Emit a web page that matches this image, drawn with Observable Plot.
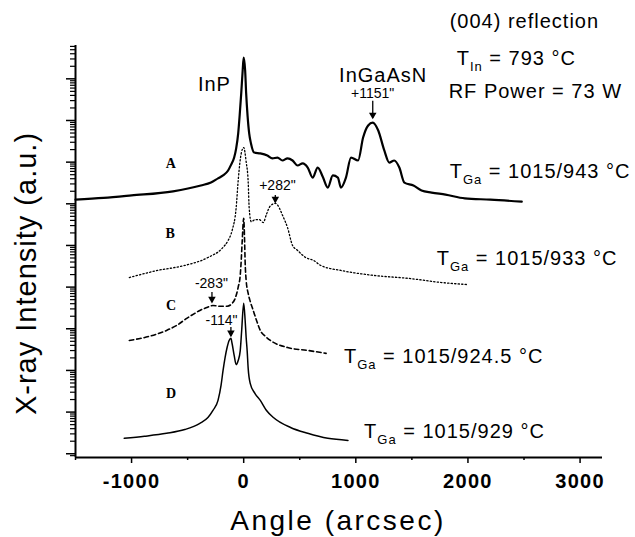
<!DOCTYPE html>
<html><head><meta charset="utf-8">
<script src="https://cdn.jsdelivr.net/npm/d3@7"></script>
<script src="https://cdn.jsdelivr.net/npm/@observablehq/plot@0.6"></script>
<style>
body{margin:0;background:#fff;}
#chart svg{display:block;}
g[aria-label="x-axis tick label"] text{font-weight:bold;font-size:20px;letter-spacing:1.3px;}
g[aria-description="headers"] text{letter-spacing:1px;}
g[aria-description="peak-names"] text{letter-spacing:1px;}
g[aria-description="y-title"] text{letter-spacing:1px;}
g[aria-description="x-title"] text{letter-spacing:2.5px;}
</style></head><body><div id="chart"></div>
<script>
// Curve A (solid): angle in arcsec, log10 of intensity
const angleA = [-1500,-1250,-1000,-630,-382,-292,-229,-184,-139,-112,-85,-67,-49,-36,-22,-9,0,13,22,35,49,65,94,148,211,256,301,346,391,436,481,526,571,615,660,705,750,795,840,867,912,957,1020,1065,1110,1151,1200,1254,1298,1343,1388,1433,1514,1586,1676,1800,1972,2200,2480];
const logA   = [6.10,6.14,6.20,6.30,6.44,6.51,6.61,6.68,6.80,6.94,7.11,7.33,7.69,8.12,8.65,9.20,9.51,9.20,8.65,8.10,7.69,7.45,7.23,7.21,7.16,7.09,7.11,7.04,7.09,7.04,6.92,6.97,6.87,6.63,6.87,6.65,6.39,6.68,6.63,6.39,6.63,7.11,7.04,7.59,7.88,7.95,7.76,7.28,6.99,7.04,6.87,6.51,6.44,6.32,6.27,6.22,6.13,6.10,6.05];
// Curve B (dotted)
const angleB = [-1020,-768,-526,-319,-193,-139,-103,-67,-49,-22,0,22,40,49,67,103,139,175,202,238,282,355,391,436,481,553,624,687,867,1164,1470,1766,2000];
const logB   = [4.23,4.40,4.52,4.71,4.93,5.12,5.36,5.91,6.56,7.21,7.35,7.01,6.53,5.90,5.57,5.62,5.62,5.55,5.74,5.95,6.01,5.67,5.43,5.00,4.88,4.71,4.64,4.52,4.40,4.28,4.21,4.11,4.06];
// Curve C (dashed)
const angleC = [-1020,-840,-688,-598,-508,-436,-391,-328,-274,-211,-148,-103,-76,-49,-31,-22,-13,0,8,13,22,40,58,85,121,148,193,238,391,571,735];
const logC   = [2.72,2.82,2.96,3.08,3.25,3.37,3.44,3.51,3.56,3.54,3.54,3.61,3.73,4.00,4.28,4.64,5.12,5.65,5.12,4.60,4.16,3.85,3.66,3.44,3.15,2.96,2.82,2.72,2.55,2.48,2.41];
// Curve D (thin solid)
const angleD = [-1065,-885,-688,-526,-391,-319,-274,-229,-202,-184,-166,-148,-130,-114,-103,-85,-67,-49,-31,-18,0,13,22,31,40,58,100,148,200,265,418,571,750,930];
const logD   = [0.37,0.42,0.49,0.58,0.73,0.87,1.04,1.28,1.64,2.00,2.31,2.55,2.72,2.77,2.64,2.36,2.14,2.24,2.47,2.96,3.61,3.20,2.79,2.47,2.05,1.69,1.45,1.28,1.05,0.87,0.63,0.49,0.37,0.32];

// Axis ticks
const xMajorTicks = [-1000, 0, 1000, 2000, 3000];
const xMinorTicks = [-1500, -500, 500, 1500, 2500];
const yDecades = [0,1,2,3,4,5,6,7,8,9];
const yMinorMult = [2,3,4,5,6,7,8,9];
const yLogDomain = [-0.09, 9.8];

// Annotations
const peakNames = ["InP", "InGaAsN"];
const peakNameX = [-261, 1244];
const peakNameLog = [8.70, 8.92];
const shiftText = ["+1151\"", "+282\"", "-283\"", "-114\""];
const shiftTextX = [1150, 301, -288, -198];
const shiftTextLog = [8.53, 6.32, 3.97, 3.08];
const arrowX = [1151, 282, -283, -114];
const arrowTopLog = [8.46, 6.20, 3.87, 3.03];
const arrowTipLog = [8.05, 6.03, 3.63, 2.82];
const curveLetters = ["A", "B", "C", "D"];
const curveLetterX = [-651, -656, -647, -647];
const curveLetterLog = [6.85, 5.19, 3.44, 1.35];
const headerText = ["(004) reflection", "T_In = 793 °C", "RF Power = 73 W",
  "T_Ga = 1015/943 °C", "T_Ga = 1015/933 °C", "T_Ga = 1015/924.5 °C", "T_Ga = 1015/929 °C"];
const headerX = [1837, 1900, 1828, 1837, 1721, 894, 1074];
const headerLog = [10.23, 9.32, 8.55, 6.63, 4.54, 2.19, 0.39];

const toRows = (xs, ls) => xs.map((x, i) => ({angle: x, I: Math.pow(10, ls[i])}));
const rowsA = toRows(angleA, logA), rowsB = toRows(angleB, logB),
      rowsC = toRows(angleC, logC), rowsD = toRows(angleD, logD);

const yMajor = yDecades.map(d => Math.pow(10, d));
const yMinor = [];
for (const d of [-1, ...yDecades]) for (const m of yMinorMult) {
  const v = m * Math.pow(10, d);
  if (Math.log10(v) >= yLogDomain[0] && Math.log10(v) <= yLogDomain[1]) yMinor.push(v);
}
const yMin = Math.pow(10, yLogDomain[0]);

const peakRows = peakNames.map((t, i) => ({t, x: peakNameX[i], y: Math.pow(10, peakNameLog[i])}));
const shiftRows = shiftText.map((t, i) => ({t, x: shiftTextX[i], y: Math.pow(10, shiftTextLog[i])}));
const arrowRows = arrowX.map((x, i) => ({x, y1: Math.pow(10, arrowTopLog[i]), y2: Math.pow(10, arrowTipLog[i])}));
const letterRows = curveLetters.map((t, i) => ({t, x: curveLetterX[i], y: Math.pow(10, curveLetterLog[i])}));
const headerRows = headerText.map((t, i) => ({t, x: headerX[i], y: Math.pow(10, headerLog[i])}));

const sans = "'Liberation Sans', Arial, Helvetica, sans-serif";

const plot = Plot.plot({
  width: 635, height: 537,
  marginLeft: 75, marginRight: 33, marginTop: 45, marginBottom: 80,
  x: {domain: [-1500, 3200]},
  y: {type: "log", domain: [yMin, Math.pow(10, yLogDomain[1])]},
  style: {fontFamily: sans, background: "white", color: "black", overflow: "visible"},
  marks: [
    Plot.axisX({ticks: xMajorTicks, tickSize: 6, tickPadding: 10, tickFormat: d => String(d), fontSize: 20, fontWeight: "bold", strokeWidth: 1.5, label: null}),
    Plot.axisX({ticks: xMinorTicks, tickSize: 3, tickFormat: () => "", strokeWidth: 1.5, label: null}),
    Plot.axisY({ticks: yMajor, tickSize: 9, tickFormat: () => "", strokeWidth: 1.5, label: null}),
    Plot.axisY({ticks: yMinor, tickSize: 5, tickFormat: () => "", strokeWidth: 1.2, label: null}),
    Plot.ruleX([-1500], {strokeWidth: 2}),
    Plot.ruleY([yMin], {strokeWidth: 2}),
    Plot.line(rowsA, {x: "angle", y: "I", stroke: "black", strokeWidth: 2.2, curve: "monotone-x"}),
    Plot.line(rowsB, {x: "angle", y: "I", stroke: "black", strokeWidth: 1.3, strokeDasharray: "1.3 2.2", curve: "monotone-x"}),
    Plot.line(rowsC, {x: "angle", y: "I", stroke: "black", strokeWidth: 1.6, strokeDasharray: "4.5 3", curve: "monotone-x"}),
    Plot.line(rowsD, {x: "angle", y: "I", stroke: "black", strokeWidth: 1.5, curve: "monotone-x"}),
    Plot.ruleX(arrowRows, {x: "x", y1: "y1", y2: "y2", strokeWidth: 1.3}),
    Plot.dot(arrowRows, {x: "x", y: "y2", symbol: "triangle", rotate: 180, r: 2.8, fill: "black", stroke: "none", dy: -3.5}),
    Plot.text(peakRows, {x: "x", y: "y", text: "t", fontSize: 20, lineAnchor: "bottom", ariaDescription: "peak-names"}),
    Plot.text(shiftRows, {x: "x", y: "y", text: "t", fontSize: 14, lineAnchor: "bottom", ariaDescription: "shifts"}),
    Plot.text(letterRows, {x: "x", y: "y", text: "t", fontSize: 14, fontWeight: "bold", fontFamily: "'Liberation Serif', 'Times New Roman', serif", lineAnchor: "bottom", ariaDescription: "letters"}),
    Plot.text(headerRows, {x: "x", y: "y", text: "t", fontSize: 20, textAnchor: "start", lineAnchor: "bottom", ariaDescription: "headers"}),
    Plot.text(["X-ray Intensity (a.u.)"], {text: d => d, frameAnchor: "left", textAnchor: "middle", lineAnchor: "bottom", rotate: -90, dx: -40, dy: 22, fontSize: 29, ariaDescription: "y-title"}),
    Plot.text(["Angle (arcsec)"], {text: d => d, frameAnchor: "bottom", textAnchor: "middle", lineAnchor: "bottom", dy: 72, dx: -1, fontSize: 28, ariaDescription: "x-title"})
  ]
});

// subscripts for T_In / T_Ga
d3.select(plot).selectAll("text").each(function () {
  const s = this.textContent;
  const m = s.match(/^T_(\w+)(.*)$/);
  if (!m) return;
  const t = d3.select(this);
  t.text(null);
  t.append("tspan").text("T");
  t.append("tspan").attr("font-size", 13).attr("dy", 6).text(m[1]);
  t.append("tspan").attr("dy", -6).text(m[2]);
});

document.getElementById("chart").appendChild(plot);
</script>
</body></html>
